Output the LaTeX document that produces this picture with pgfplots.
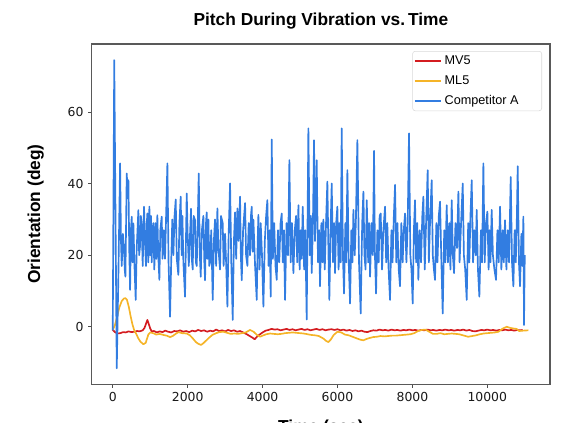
\documentclass[border=0pt]{standalone}
\usepackage{pgfplots}
\pgfplotsset{compat=1.18}
\usepackage{fontspec}
\setmainfont{Liberation Sans}
\newfontfamily\dejavu{DejaVu Sans}
\definecolor{cred}{RGB}{212,28,32}
\definecolor{corange}{RGB}{245,180,40}
\definecolor{cblue}{RGB}{50,125,225}
\begin{document}
\begin{tikzpicture}
\begin{axis}[
  name=ax,
  scale only axis,
  width=343.7pt, height=255.2pt,
  xmin=-561, xmax=11674, ymin=-16.1, ymax=79.1,
  xtick={0,2000,4000,6000,8000,10000},
  ytick={0,20,40,60},
  scaled x ticks=false,
  /pgf/number format/1000 sep={},
  /pgf/number format/assume math mode=true,
  tick label style={font=\dejavu\fontsize{9.3}{11}\selectfont, text=black!90},
  tick align=outside, xtick pos=left, ytick pos=left,
  major tick length=2.7pt,
  tick style={black!70, line width=0.7pt},
  axis line style={black!65, line width=0.9pt},
  title={Pitch During Vibration vs.\,Time},
  title style={font=\fontsize{13}{15}\selectfont\bfseries, at={(0.5,1)}, anchor=base, yshift=8.2pt, inner sep=0pt},
  ylabel={Orientation (deg)},
  every axis y label/.style={at={(rel axis cs:0,0.5)}, anchor=base, rotate=90, yshift=38.8pt, inner sep=0pt, font=\fontsize{13}{15}\selectfont\bfseries},
  every axis x label/.style={at={(rel axis cs:0.5,0)}, anchor=north, inner sep=0pt, yshift=-26.5pt, font=\fontsize{13}{15}\selectfont\bfseries},
  xlabel={Time (sec)},
  legend style={at={(1,1)}, anchor=north east, xshift=-6pt, yshift=-5.25pt,
    draw=black!15, rounded corners=2pt, fill=white,
    inner xsep=1pt, inner ysep=1.5pt, row sep=3.2pt,
    font=\fontsize{9.5}{11}\selectfont,
    nodes={inner sep=1.8pt},
    /tikz/every even column/.append style={column sep=4.5pt}},
  legend cell align=left,
  legend image code/.code={\draw[#1] (0pt,0pt) -- (20pt,0pt);},
  every axis plot/.append style={line width=1.25pt, line join=round},
]
\addplot[cred] coordinates {
(0,-0.9) (60,-1.5) (120,-1.9) (200,-1.8) (280,-1.5) (350,-1.6) (420,-1.3) (500,-1.5) (580,-1.4) (650,-1.2) (720,-1.3) (800,-1.0) (850,-0.3) (900,1.2) (925,1.9) (960,0.8) (1000,-0.5) (1040,-1.3) (1100,-1.2) (1180,-1.6) (1250,-1.3) (1330,-1.5) (1400,-1.1) (1480,-1.4) (1560,-1.6) (1640,-1.2) (1720,-1.3) (1800,-1.0) (1880,-1.4) (1960,-1.2) (2040,-1.5) (2120,-1.1) (2200,-1.3) (2280,-0.9) (2360,-1.2) (2440,-1.0) (2520,-1.4) (2600,-1.1) (2680,-1.3) (2760,-0.8) (2840,-1.2) (2920,-1.0) (3000,-1.3) (3080,-0.9) (3160,-1.2) (3240,-1.0) (3320,-1.4) (3400,-1.2) (3480,-1.6) (3560,-2.0) (3640,-2.5) (3720,-3.0) (3790,-3.5) (3850,-2.8) (3920,-2.2) (4000,-1.6) (4080,-1.1) (4160,-0.9) (4240,-0.6) (4320,-0.8) (4400,-0.7) (4480,-1.0) (4560,-0.8) (4640,-0.6) (4720,-0.9) (4800,-0.7) (4880,-1.0) (4960,-0.8) (5040,-0.6) (5120,-0.9) (5200,-0.7) (5280,-1.0) (5360,-0.8) (5440,-0.6) (5520,-0.9) (5600,-0.7) (5680,-1.0) (5760,-0.8) (5840,-0.7) (5920,-0.9) (6000,-0.7) (6080,-1.0) (6160,-0.8) (6240,-1.1) (6320,-0.9) (6400,-1.2) (6480,-1.0) (6560,-1.3) (6640,-1.1) (6720,-1.4) (6800,-1.5) (6880,-1.2) (6960,-1.0) (7040,-1.1) (7120,-0.8) (7200,-1.0) (7280,-0.9) (7360,-1.1) (7440,-0.8) (7520,-1.0) (7600,-0.9) (7680,-1.1) (7760,-0.9) (7840,-1.0) (7920,-0.8) (8000,-1.0) (8080,-0.9) (8160,-1.1) (8240,-0.9) (8320,-1.0) (8400,-0.8) (8480,-1.0) (8560,-0.9) (8640,-1.1) (8720,-0.9) (8800,-1.0) (8880,-0.8) (8960,-1.0) (9040,-0.9) (9120,-1.1) (9200,-0.9) (9280,-1.0) (9360,-0.8) (9440,-1.1) (9520,-0.9) (9600,-1.2) (9680,-1.3) (9760,-1.1) (9840,-0.9) (9920,-1.0) (10000,-0.8) (10080,-1.0) (10160,-0.9) (10240,-1.1) (10320,-0.9) (10400,-1.0) (10480,-0.8) (10560,-1.0) (10640,-0.9) (10720,-1.1) (10800,-0.9) (10880,-1.0) (10945,-0.9)
};
\addlegendentry{\makebox[70pt][l]{MV5}}
\addplot[corange] coordinates {
(0,-0.9) (60,0.5) (120,3) (180,5.5) (240,7.2) (300,7.9) (340,8.0) (380,7.5) (430,5.5) (480,2.8) (530,0.5) (580,-1.2) (623,-1.9) (680,-3.2) (740,-4.2) (819,-4.9) (880,-4.5) (920,-3.2) (950,-2.2) (1000,-1.6) (1080,-1.8) (1160,-2.2) (1250,-2.0) (1353,-2.3) (1440,-2.5) (1530,-2.9) (1600,-2.6) (1680,-2.0) (1752,-1.5) (1850,-1.8) (1975,-1.9) (2060,-2.4) (2140,-3.3) (2220,-4.3) (2290,-4.8) (2358,-5.1) (2420,-4.6) (2500,-3.8) (2580,-3.0) (2660,-2.3) (2760,-1.8) (2850,-1.5) (2954,-1.4) (3050,-1.7) (3150,-2.0) (3250,-1.9) (3350,-2.0) (3450,-1.8) (3550,-1.6) (3665,-0.9) (3760,-1.4) (3850,-2.3) (3933,-2.8) (4020,-2.4) (4100,-2.1) (4200,-1.9) (4300,-2.0) (4400,-2.1) (4500,-2.0) (4600,-1.8) (4700,-1.7) (4800,-1.6) (4900,-1.7) (5000,-1.8) (5100,-1.9) (5200,-2.1) (5300,-2.3) (5400,-2.4) (5500,-2.6) (5623,-3.3) (5700,-4.0) (5757,-4.3) (5820,-3.6) (5900,-2.3) (6000,-1.4) (6100,-1.6) (6200,-2.2) (6300,-2.4) (6400,-2.8) (6500,-3.2) (6600,-3.6) (6692,-3.8) (6780,-3.4) (6842,-3.2) (6950,-2.9) (7050,-2.8) (7150,-2.6) (7250,-2.7) (7350,-2.6) (7450,-2.5) (7550,-2.5) (7650,-2.4) (7750,-2.3) (7850,-2.2) (7950,-2.1) (8050,-1.8) (8150,-1.2) (8250,-0.9) (8350,-0.8) (8450,-1.4) (8550,-2.0) (8650,-2.0) (8750,-1.8) (8850,-2.1) (8950,-2.0) (9050,-1.9) (9150,-2.0) (9250,-2.1) (9350,-2.4) (9486,-2.8) (9600,-2.6) (9700,-2.4) (9800,-2.1) (9900,-1.9) (10000,-1.8) (10100,-1.7) (10200,-1.6) (10300,-1.4) (10400,-0.6) (10518,0.0) (10600,-0.3) (10700,-0.5) (10780,-0.6) (10850,-1.2) (10950,-1.1) (11095,-1.0)
};
\addlegendentry{\makebox[70pt][l]{ML5}}
\addplot[cblue] coordinates {
(0,-1) (40,74.6) (107,-11.6) (150,14) (196,45.7) (220,24) (240,17) (270,26) (302,22) (320,16) (338,14) (374,42.9) (400,36) (418,41) (440,22) (463,10.3) (485,27) (507,30.8) (530,18) (551,28.9) (580,17) (613,7.5) (640,22) (684,32.6) (705,20) (728,22.4) (750,31) (772,28.9) (800,17) (835,33.6) (860,24) (888,17) (905,28) (924,31.7) (950,18) (978,33.6) (1000,20) (1020,31) (1040,18) (1060,27) (1084,29) (1110,16) (1140,29) (1165,19) (1191,31.2) (1215,20) (1245,13.1) (1270,27) (1307,30.8) (1330,19) (1360,27) (1396,19) (1420,29) (1459,45.7) (1490,18) (1530,2.8) (1560,18) (1590,30) (1619,20) (1650,31) (1681,35.6) (1710,19) (1752,14.5) (1780,29) (1814,36.4) (1840,20) (1860,31) (1886,18) (1930,8.4) (1975,37.3) (2000,26) (2030,17) (2064,26) (2090,33) (2110,19) (2135,16) (2160,31) (2197,29.8) (2220,18) (2242,17) (2270,29) (2296,42.9) (2325,20) (2349,14) (2380,27) (2420,31) (2445,18) (2465,13) (2490,29) (2509,32) (2530,19) (2554,30) (2575,17) (2598,18) (2630,27) (2669,7.5) (2700,24) (2731,30) (2760,17) (2794,33.1) (2820,22) (2865,16) (2890,31) (2936,29) (2960,17) (2999,26) (3030,17) (3061,5.6) (3095,26) (3132,40.1) (3165,18) (3203,1.9) (3235,24) (3265,32) (3295,19) (3328,33.1) (3360,24) (3399,36.4) (3420,20) (3444,13) (3480,27) (3533,34.6) (3560,20) (3595,17) (3630,29) (3666,20) (3690,31) (3711,33.6) (3735,21) (3755,30) (3800,17) (3844,7.5) (3870,24) (3888,31.3) (3920,16) (3950,29) (3985,20) (4022,5.6) (4060,24) (4095,31) (4128,35.4) (4160,17) (4190,27) (4217,8.4) (4245,52.4) (4275,19) (4310,29) (4345,17) (4378,13.1) (4410,27) (4445,18) (4480,29) (4512,31.7) (4540,18) (4570,27) (4600,7.5) (4640,29) (4680,20) (4716,46.6) (4750,18) (4785,29) (4823,15) (4860,27) (4895,31) (4925,18) (4957,34) (4990,16) (5020,27) (5045,19) (5072,33.6) (5110,16) (5140,27) (5178,2.0) (5223,55.5) (5260,20) (5290,31) (5312,15) (5345,29) (5374,52.2) (5400,24) (5445,46.6) (5480,18) (5510,27) (5534,11.3) (5570,29) (5600,18) (5623,30) (5660,16) (5700,31) (5730,40.6) (5760,20) (5783,7.5) (5815,27) (5846,40.1) (5880,18) (5910,29) (5935,15) (5965,29) (5997,33.6) (6030,16) (6060,29) (6085,18) (6113,55.5) (6145,20) (6175,9.3) (6210,29) (6235,18) (6264,43.8) (6300,18) (6336,6.5) (6370,27) (6400,18) (6425,32.7) (6460,20) (6490,29) (6531,52.2) (6575,18) (6620,3.7) (6660,29) (6692,37.8) (6720,20) (6750,16) (6781,35.4) (6820,18) (6845,29) (6870,14) (6910,29) (6945,20) (6976,49.2) (7000,20) (7030,9.3) (7065,27) (7100,18) (7125,31) (7154,31.7) (7190,16) (7225,27) (7270,33.6) (7300,18) (7330,29) (7365,16) (7403,7.5) (7440,27) (7470,18) (7505,31) (7537,39.7) (7570,18) (7600,29) (7635,16) (7670,11.3) (7705,29) (7740,18) (7770,27) (7804,31.7) (7840,18) (7875,29) (7910,54.1) (7945,20) (7975,16) (8008,6.5) (8040,27) (8070,35.4) (8100,18) (8130,29) (8159,13.1) (8195,27) (8230,18) (8265,31) (8293,36.4) (8330,16) (8360,27) (8408,43.8) (8440,18) (8470,29) (8515,41.0) (8545,20) (8575,16) (8604,13.1) (8640,29) (8670,18) (8705,31) (8738,35.0) (8770,20) (8809,3.7) (8850,27) (8880,18) (8916,34) (8950,18) (8985,29) (9015,16) (9050,35.4) (9080,20) (9112,15) (9150,29) (9190,22) (9228,37.8) (9260,18) (9300,29) (9344,40.1) (9375,20) (9410,16) (9450,7.5) (9490,29) (9520,18) (9550,31) (9584,41.0) (9620,18) (9650,27) (9690,20) (9717,32.7) (9750,16) (9788,8.4) (9830,27) (9860,18) (9895,45.7) (9930,18) (9965,29) (10002,32.2) (10035,16) (10060,27) (10085,18) (10117,32.7) (10150,20) (10190,16) (10233,13.1) (10270,27) (10305,18) (10340,33.6) (10375,16) (10410,27) (10440,18) (10473,29.8) (10510,16) (10545,27) (10580,18) (10625,41.9) (10660,18) (10696,11.3) (10730,27) (10760,18) (10790,31) (10812,44.9) (10845,18) (10874,11.3) (10910,26) (10935,17) (10963,30.8) (10980,0.5) (11000,20)
};
\addlegendentry{\makebox[70pt][l]{Competitor A}}
\end{axis}
\pgfresetboundingbox
\path[use as bounding box] (ax.south west) ++(-68.8pt,-28.3pt) rectangle ++(429.75pt,316.5pt);
\end{tikzpicture}
\end{document}
